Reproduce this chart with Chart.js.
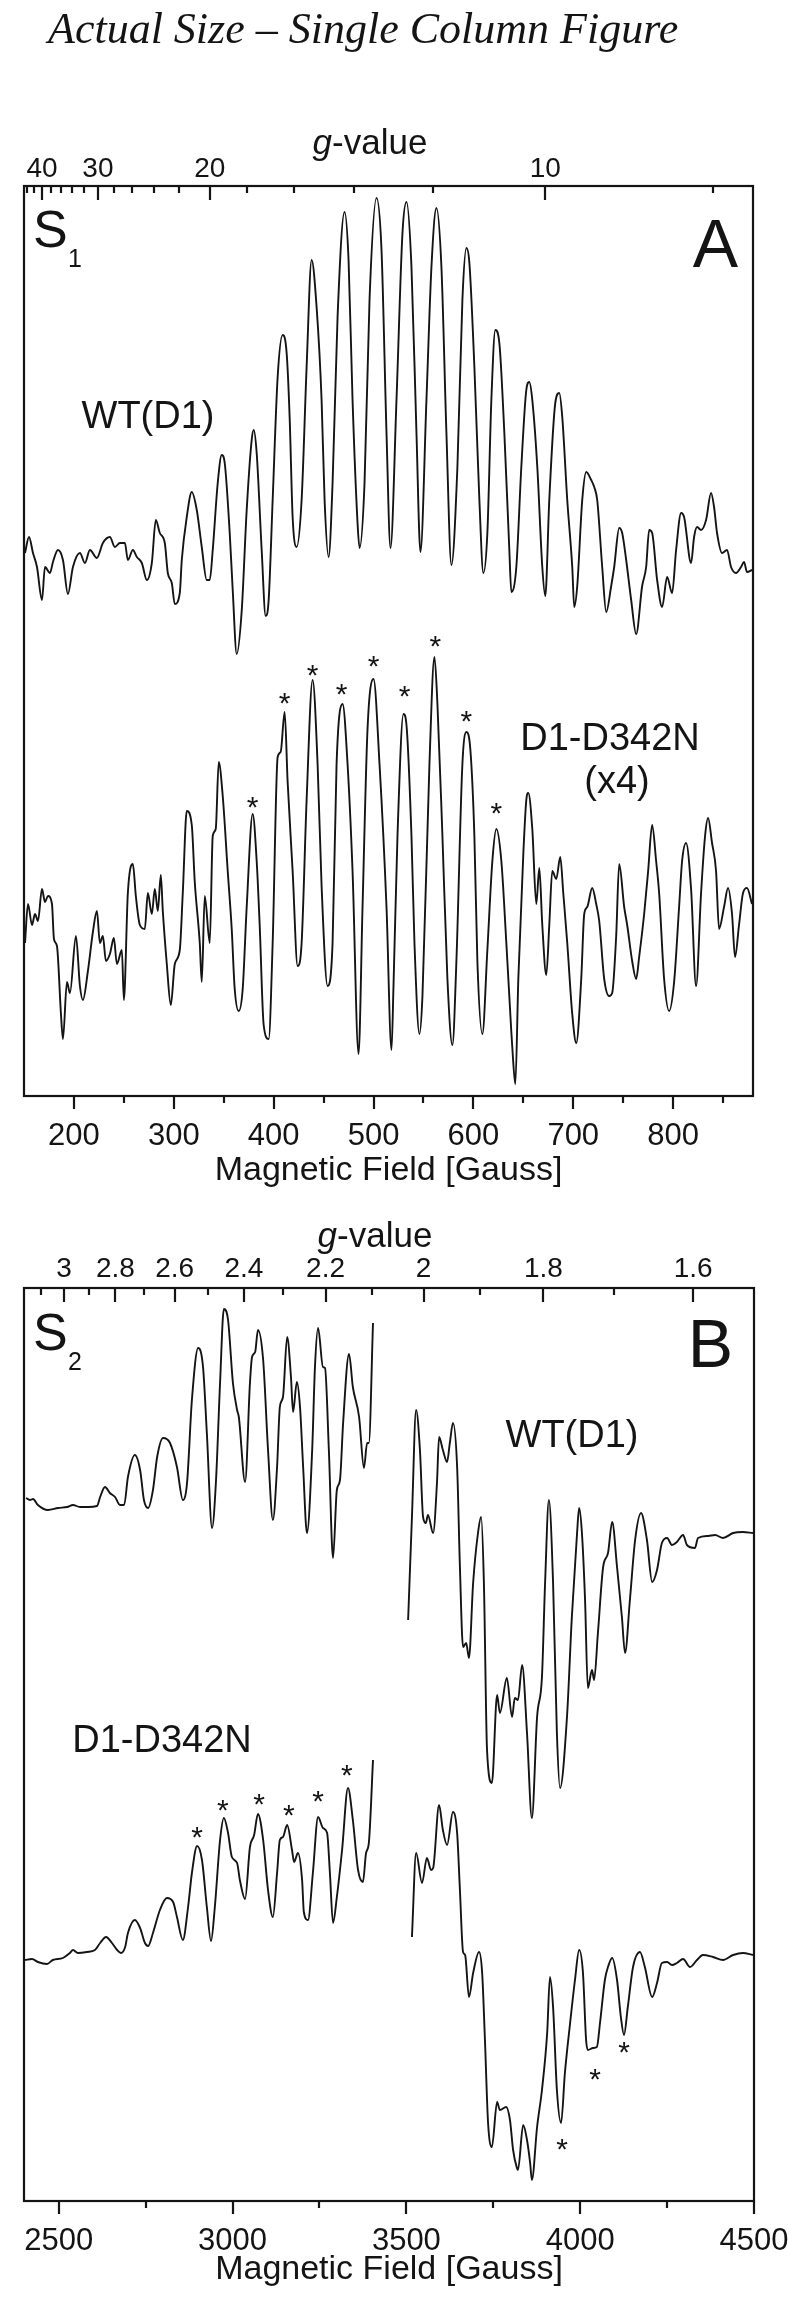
<!DOCTYPE html>
<html>
<head>
<meta charset="utf-8">
<script src="https://cdn.jsdelivr.net/npm/chart.js@4"></script>
<style>
  html, body { margin: 0; padding: 0; background: #fff; }
  #wrap { position: relative; width: 800px; height: 2308px; }
  canvas { position: absolute; left: 0; }
  #cA { top: 0; }
  #cB { top: 1220px; }
</style>
</head>
<body>
<div id="wrap">
  <canvas id="cA" width="800" height="1220"></canvas>
  <canvas id="cB" width="800" height="1088"></canvas>
</div>
<script>
// Panel A (S1 state) - [field (G), intensity (a.u.)]
const wtA = [[151,7],[155,23],[159,7],[163,-7],[168,-40],[171,-7],[176,-13],[179,-2],[184,10],[189,0],[194,-34],[199,-7],[206,7],[211,-3],[216,10],[223,2],[229,17],[236,23],[241,13],[246,17],[251,17],[254,0],[259,10],[263,3],[268,-3],[273,-20],[278,-3],[282,40],[286,27],[291,17],[294,-13],[298,-23],[301,-44],[306,-33],[308,0],[313,43],[318,68],[323,50],[328,13],[333,-20],[336,-20],[339,10],[344,77],[348,105],[351,97],[356,27],[359,-30],[363,-94],[368,-51],[373,50],[378,120],[380,130],[383,107],[388,10],[392,-56],[395,-40],[399,60],[404,183],[409,225],[413,207],[416,143],[419,43],[423,13],[428,60],[433,193],[438,300],[443,253],[448,160],[451,60],[455,3],[459,77],[464,243],[471,348],[475,300],[479,160],[484,37],[486,12],[491,77],[496,260],[503,362],[508,310],[513,127],[517,12],[523,160],[529,327],[533,358],[538,293],[543,127],[547,8],[553,160],[558,293],[563,352],[568,293],[573,127],[578,-5],[584,93],[589,260],[593,312],[596,297],[601,193],[606,60],[610,-13],[614,27],[618,160],[622,230],[626,217],[631,127],[636,10],[638,-32],[643,-7],[648,93],[653,170],[656,178],[659,160],[664,93],[669,-7],[672,-36],[676,60],[682,157],[686,167],[689,143],[694,60],[699,-7],[701,-47],[704,-26],[709,60],[713,88],[718,80],[721,73],[724,60],[729,-7],[733,-52],[738,-26],[741,-7],[746,32],[749,27],[753,0],[758,-40],[763,-74],[769,-26],[773,-7],[776,30],[779,27],[784,-20],[789,-47],[794,-17],[799,-33],[803,10],[808,47],[811,43],[818,-3],[821,23],[824,33],[828,30],[833,40],[838,67],[841,53],[844,27],[849,7],[854,10],[858,-7],[863,-13],[868,-7],[871,-2],[874,-12],[879,-10]];

const mutA = [[151,-43],[154,-4],[158,-25],[161,-14],[164,-21],[168,11],[171,-2],[174,4],[178,-4],[180,-39],[183,-46],[187,-114],[189,-139],[193,-82],[196,-93],[202,-36],[206,-86],[209,-100],[214,-71],[219,-32],[223,-11],[226,-43],[229,-36],[232,-61],[236,-54],[240,-38],[243,-64],[248,-50],[250,-100],[254,7],[259,36],[262,4],[266,-25],[271,-29],[274,7],[278,-14],[281,11],[284,-11],[287,25],[289,-11],[293,-64],[297,-105],[301,-64],[306,-50],[309,7],[313,89],[318,75],[321,18],[326,-43],[328,-82],[331,4],[336,-43],[339,64],[342,71],[345,138],[349,104],[354,29],[358,-29],[361,-89],[365,-111],[369,-89],[373,-7],[379,86],[383,39],[386,-25],[390,-125],[395,-139],[399,-43],[404,143],[407,148],[411,188],[414,118],[419,29],[424,-66],[428,-43],[433,100],[439,220],[444,136],[448,14],[454,-86],[459,-43],[463,136],[469,196],[474,136],[479,29],[485,-154],[489,-7],[494,171],[500,221],[506,136],[513,-7],[518,-150],[520,-86],[524,64],[530,186],[533,175],[538,64],[541,-43],[546,-134],[549,-96],[556,136],[561,243],[564,196],[569,64],[574,-79],[579,-145],[583,-61],[589,136],[593,168],[597,150],[601,64],[604,-61],[609,-134],[614,-50],[619,39],[623,71],[628,39],[633,-43],[638,-132],[639,-148],[642,-184],[645,-79],[650,46],[653,100],[655,107],[659,71],[663,-4],[666,32],[669,-25],[673,-75],[676,-25],[679,29],[683,21],[687,43],[690,7],[694,-43],[699,-114],[703,-143],[708,-79],[711,-14],[714,-7],[719,12],[723,-4],[726,-21],[731,-79],[736,-96],[739,-93],[743,-36],[746,36],[751,-7],[754,-25],[759,-61],[763,-79],[766,-57],[771,-14],[775,29],[779,75],[783,39],[786,7],[791,-79],[796,-111],[801,-82],[806,-7],[809,39],[813,57],[818,11],[823,-86],[828,7],[832,64],[835,82],[839,57],[843,29],[846,-29],[851,-7],[855,12],[859,-14],[862,-57],[866,-25],[870,7],[874,12],[879,-4]];

const starsA = [[379,100],[411,204],[439,232],[468,213],[500,241],[531,211],[562,261],[593,186],[623,94]];

// Panel B (S2 state); null marks the cut-out region around g = 2
const wtB = [[2406,17],[2417,15],[2426,16],[2440,10],[2469,5],[2498,7],[2524,8],[2541,10],[2561,8],[2584,8],[2610,9],[2619,18],[2633,28],[2647,22],[2662,18],[2676,10],[2688,10],[2699,38],[2719,60],[2734,45],[2745,15],[2757,7],[2771,25],[2783,58],[2800,77],[2820,72],[2840,48],[2857,15],[2869,32],[2883,115],[2901,167],[2915,148],[2926,82],[2941,-13],[2952,32],[2964,132],[2975,206],[2987,195],[3001,132],[3013,105],[3018,98],[3036,33],[3050,132],[3056,158],[3065,163],[3073,185],[3088,155],[3102,65],[3116,-5],[3128,48],[3136,108],[3145,118],[3157,178],[3168,138],[3174,103],[3185,133],[3194,108],[3203,48],[3214,-18],[3229,65],[3237,148],[3246,187],[3260,148],[3266,147],[3277,65],[3289,-43],[3300,25],[3309,35],[3318,92],[3335,161],[3346,128],[3364,98],[3378,47],[3387,72],[3392,72],[3404,192],[3455,null],[3505,-105],[3516,-2],[3528,105],[3539,65],[3548,-2],[3556,-8],[3562,0],[3577,-18],[3588,32],[3594,78],[3605,65],[3617,53],[3625,72],[3634,92],[3646,48],[3654,-52],[3663,-132],[3672,-128],[3680,-143],[3692,-68],[3706,-18],[3715,-2],[3723,-68],[3732,-235],[3746,-268],[3761,-180],[3769,-198],[3789,-163],[3804,-202],[3812,-183],[3821,-185],[3833,-150],[3847,-218],[3861,-303],[3876,-202],[3890,-162],[3899,-68],[3910,15],[3922,-68],[3933,-218],[3942,-273],[3962,-202],[3976,-102],[3991,-18],[3997,7],[4005,-18],[4014,-85],[4022,-173],[4034,-155],[4040,-165],[4051,-118],[4066,-52],[4080,-38],[4092,-7],[4106,-52],[4120,-102],[4129,-138],[4143,-85],[4158,-25],[4175,2],[4192,-25],[4207,-67],[4221,-55],[4235,-28],[4250,-23],[4264,-30],[4278,-27],[4296,-20],[4307,-30],[4330,-33],[4339,-23],[4368,-21],[4388,-20],[4411,-23],[4440,-18],[4468,-17],[4497,-18]];

const mutB = [[2403,-2],[2423,-1],[2440,-4],[2466,-6],[2483,-2],[2512,0],[2532,5],[2541,8],[2555,5],[2581,6],[2604,8],[2619,15],[2636,21],[2653,15],[2668,8],[2679,5],[2691,11],[2699,25],[2719,38],[2734,30],[2748,15],[2757,12],[2771,25],[2791,48],[2811,60],[2829,56],[2840,41],[2857,18],[2872,51],[2883,85],[2898,112],[2912,98],[2926,51],[2938,17],[2949,51],[2964,118],[2975,140],[2987,125],[2998,101],[3013,95],[3021,78],[3036,59],[3050,111],[3062,123],[3073,144],[3088,118],[3102,68],[3116,41],[3128,85],[3136,118],[3145,121],[3157,133],[3171,108],[3177,96],[3188,105],[3200,78],[3205,46],[3217,38],[3231,85],[3246,141],[3260,130],[3272,125],[3280,85],[3289,35],[3300,61],[3315,108],[3332,170],[3346,138],[3361,88],[3375,76],[3384,105],[3392,115],[3404,198],[3460,null],[3516,21],[3528,105],[3545,75],[3559,100],[3571,88],[3577,90],[3594,153],[3605,128],[3617,113],[3634,146],[3646,125],[3654,68],[3663,6],[3669,3],[3680,-39],[3692,-15],[3709,6],[3718,-15],[3726,-82],[3735,-165],[3746,-189],[3761,-144],[3769,-152],[3787,-149],[3798,-162],[3807,-192],[3818,-210],[3821,-212],[3836,-167],[3847,-182],[3856,-205],[3861,-222],[3876,-169],[3890,-132],[3905,-75],[3913,-19],[3922,-49],[3933,-132],[3945,-165],[3956,-115],[3971,-65],[3985,-22],[3997,8],[4008,-15],[4017,-82],[4022,-92],[4037,-90],[4048,-89],[4057,-65],[4071,-22],[4080,-9],[4092,0],[4106,-22],[4117,-59],[4126,-77],[4137,-49],[4152,-9],[4172,6],[4186,-9],[4207,-39],[4221,-25],[4235,-5],[4250,-4],[4264,-7],[4278,-5],[4296,-1],[4316,-9],[4336,-2],[4353,3],[4382,1],[4411,-2],[4440,3],[4468,5],[4497,3]];

const starsB = [[2898,128],[2972,155],[3076,161],[3162,150],[3246,164],[3329,190],[3948,-184],[4043,-114],[4126,-87]];

// axis ticks
const fieldMajorA = [200, 300, 400, 500, 600, 700, 800];
const fieldMinorA = [250, 350, 450, 550, 650, 750, 850];
const gMajorA = [40, 30, 20, 10];
const gMinorA = [44, 42, 38, 36, 34, 32, 28, 26, 24, 22, 18, 16, 14, 12, 8];

const fieldMajorB = [2500, 3000, 3500, 4000, 4500];
const fieldMinorB = [2750, 3250, 3750, 4250];
const gMajorB = [3, 2.8, 2.6, 2.4, 2.2, 2, 1.8, 1.6];
const gMinorB = [3.1, 2.9, 2.7, 2.5, 2.3, 2.1, 1.9, 1.7];

const INK = '#141414';
const SANS = '"Liberation Sans", Arial, Helvetica, sans-serif';

function toPoints(pairs, offset) {
  return pairs.map(p => ({ x: p[0], y: p[1] === null ? null : p[1] + offset }));
}

function trace(pairs, offset) {
  return {
    data: toPoints(pairs, offset),
    borderColor: INK,
    borderWidth: 1.9,
    pointRadius: 0,
    cubicInterpolationMode: 'monotone',
    spanGaps: false
  };
}

// draws the frame, the axes and the text of one panel
const framePlugin = {
  id: 'frame',
  afterDatasetsDraw(chart, args, o) {
    const { ctx, chartArea: a, scales: { x, y } } = chart;
    ctx.save();
    ctx.strokeStyle = INK;
    ctx.fillStyle = INK;

    if (o.title) {
      ctx.font = 'italic 44px "Liberation Serif", "Times New Roman", serif';
      ctx.textAlign = 'left';
      ctx.textBaseline = 'alphabetic';
      ctx.fillText(o.title, 48, 43);
    }

    ctx.lineWidth = 2.2;
    ctx.strokeRect(a.left, a.top, a.right - a.left, a.bottom - a.top);

    ctx.beginPath();
    o.fieldMajor.forEach(v => {
      const px = Math.round(x.getPixelForValue(v));
      ctx.moveTo(px, a.bottom); ctx.lineTo(px, a.bottom + 13);
    });
    o.fieldMinor.forEach(v => {
      const px = Math.round(x.getPixelForValue(v));
      ctx.moveTo(px, a.bottom); ctx.lineTo(px, a.bottom + 7);
    });
    o.gMajor.forEach(g => {
      const px = Math.round(x.getPixelForValue(o.gToField(g)));
      ctx.moveTo(px, a.top); ctx.lineTo(px, a.top + 14);
    });
    o.gMinor.forEach(g => {
      const px = Math.round(x.getPixelForValue(o.gToField(g)));
      ctx.moveTo(px, a.top); ctx.lineTo(px, a.top + 7);
    });
    ctx.stroke();

    ctx.textAlign = 'center';
    ctx.textBaseline = 'alphabetic';
    ctx.font = '31px ' + SANS;
    o.fieldMajor.forEach(v => ctx.fillText(String(v), x.getPixelForValue(v), a.bottom + 49));
    ctx.font = '34px ' + SANS;
    ctx.fillText('Magnetic Field [Gauss]', (a.left + a.right) / 2, a.bottom + o.xTitleGap);

    ctx.font = '28px ' + SANS;
    o.gMajor.forEach(g => ctx.fillText(String(g), x.getPixelForValue(o.gToField(g)), a.top - o.gLabelGap));

    // "g-value" with italic g
    const fItal = 'italic 35px ' + SANS, fReg = '35px ' + SANS;
    ctx.font = fItal; const w1 = ctx.measureText('g').width;
    ctx.font = fReg; const w2 = ctx.measureText('-value').width;
    const gx = o.gTitleX - (w1 + w2) / 2, gy = a.top - o.gTitleGap;
    ctx.textAlign = 'left';
    ctx.font = fItal; ctx.fillText('g', gx, gy);
    ctx.font = fReg; ctx.fillText('-value', gx + w1, gy);

    // state and panel letters, trace names
    ctx.font = '52px ' + SANS;
    ctx.fillText('S', 33, o.sBase);
    ctx.font = '25px ' + SANS;
    ctx.fillText(o.sub, 68, o.sBase + 20);
    ctx.textAlign = 'right';
    ctx.font = '68px ' + SANS;
    ctx.fillText(o.letter, o.letterX, o.letterBase);
    ctx.textAlign = 'center';
    ctx.font = '38px ' + SANS;
    o.names.forEach(n => ctx.fillText(n.text, n.x, n.y));

    // asterisks over the marked hyperfine lines
    ctx.font = '30px ' + SANS;
    o.stars.forEach(s => {
      const px = x.getPixelForValue(s[0]);
      const py = y.getPixelForValue(s[1] + o.starOffset);
      ctx.fillText('*', px, py + 17);
    });
    ctx.restore();
  }
};

function makeChart(id, datasets, xmin, xmax, ymax, pad, frame) {
  return new Chart(document.getElementById(id), {
    type: 'line',
    data: { datasets: datasets },
    options: {
      responsive: false,
      devicePixelRatio: 1,
      animation: false,
      events: [],
      layout: { padding: pad },
      scales: {
        x: { type: 'linear', min: xmin, max: xmax, display: false },
        y: { type: 'linear', min: 0, max: ymax, display: false }
      },
      plugins: { legend: { display: false }, tooltip: { enabled: false }, frame: frame }
    },
    plugins: [framePlugin]
  });
}

// Panel A
makeChart('cA', [trace(wtA, 536), trace(mutA, 196)], 150, 880, 910,
  { left: 24, right: 47, top: 186, bottom: 124 },
  {
    title: 'Actual Size \u2013 Single Column Figure',
    fieldMajor: fieldMajorA, fieldMinor: fieldMinorA,
    gMajor: gMajorA, gMinor: gMinorA, gToField: g => 6720 / g,
    xTitleGap: 84, gLabelGap: 9, gTitleGap: 32, gTitleX: 370,
    sBase: 247, sub: '1', letter: 'A', letterX: 738, letterBase: 267,
    names: [{ text: 'WT(D1)', x: 148, y: 428 }, { text: 'D1-D342N', x: 610, y: 750 }, { text: '(x4)', x: 617, y: 793 }],
    stars: starsA, starOffset: 196
  });

// Panel B
makeChart('cB', [trace(wtB, 686), trace(mutB, 243)], 2400, 4500, 913,
  { left: 24, right: 46, top: 68, bottom: 107 },
  {
    title: null,
    fieldMajor: fieldMajorB, fieldMinor: fieldMinorB,
    gMajor: gMajorB, gMinor: gMinorB, gToField: g => 447 + 6205 / g,
    xTitleGap: 78, gLabelGap: 11, gTitleGap: 41, gTitleX: 375,
    sBase: 130, sub: '2', letter: 'B', letterX: 733, letterBase: 147,
    names: [{ text: 'WT(D1)', x: 572, y: 227 }, { text: 'D1-D342N', x: 162, y: 532 }],
    stars: starsB, starOffset: 243
  });
</script>
</body>
</html>
